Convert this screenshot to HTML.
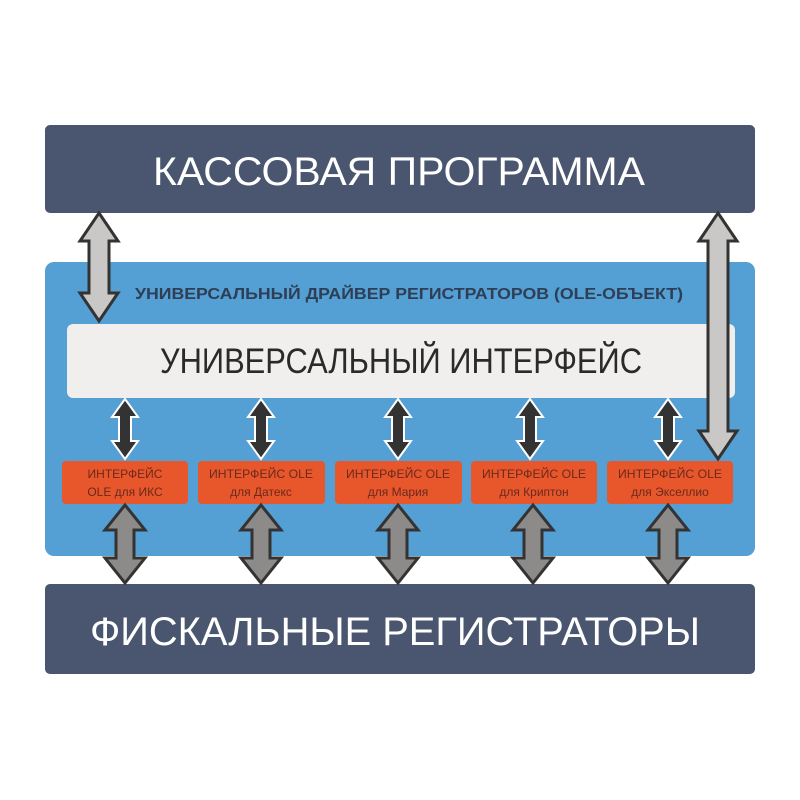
<!DOCTYPE html>
<html><head><meta charset="utf-8"><style>
html,body{margin:0;padding:0;background:#fff;width:800px;height:800px;overflow:hidden}
svg{display:block}
text{font-family:"Liberation Sans","DejaVu Sans",sans-serif}
</style></head><body>
<svg width="800" height="800" viewBox="0 0 800 800" xmlns="http://www.w3.org/2000/svg">
<rect x="0" y="0" width="800" height="800" fill="#fff"/>
<rect x="45" y="125" width="710" height="88" rx="5" fill="#4a5670"/>
<text x="399" y="185" font-size="40" fill="#fff" text-anchor="middle" textLength="492" lengthAdjust="spacingAndGlyphs">КАССОВАЯ ПРОГРАММА</text>
<rect x="45" y="262" width="710" height="294" rx="9" fill="#549fd3"/>
<text x="409" y="299" font-size="16" font-weight="bold" fill="#2e3e55" text-anchor="middle" textLength="548" lengthAdjust="spacingAndGlyphs">УНИВЕРСАЛЬНЫЙ ДРАЙВЕР РЕГИСТРАТОРОВ (OLE-ОБЪЕКТ)</text>
<rect x="67" y="324" width="668" height="74" rx="6" fill="#f0efed"/>
<text x="401" y="373" font-size="35" fill="#2a2a2a" text-anchor="middle" textLength="482" lengthAdjust="spacingAndGlyphs">УНИВЕРСАЛЬНЫЙ ИНТЕРФЕЙС</text>
<g fill="#e8562c">
<rect x="62" y="461" width="126" height="43" rx="4"/>
<rect x="198" y="461" width="127" height="43" rx="4"/>
<rect x="335" y="461" width="127" height="43" rx="4"/>
<rect x="471" y="461" width="126" height="43" rx="4"/>
<rect x="607" y="461" width="126" height="43" rx="4"/>
</g>
<g font-size="12" fill="#6a2a1c" text-anchor="middle">
<text x="125" y="478">ИНТЕРФЕЙС</text><text x="125" y="496">OLE для ИКС</text>
<text x="261" y="478" textLength="104" lengthAdjust="spacingAndGlyphs">ИНТЕРФЕЙС OLE</text><text x="261" y="496">для Датекс</text>
<text x="398" y="478" textLength="104" lengthAdjust="spacingAndGlyphs">ИНТЕРФЕЙС OLE</text><text x="398" y="496">для Мария</text>
<text x="534" y="478" textLength="104" lengthAdjust="spacingAndGlyphs">ИНТЕРФЕЙС OLE</text><text x="534" y="496">для Криптон</text>
<text x="670" y="478" textLength="104" lengthAdjust="spacingAndGlyphs">ИНТЕРФЕЙС OLE</text><text x="670" y="496">для Экселлио</text>
</g>
<rect x="45" y="584" width="710" height="90" rx="5" fill="#4a5670"/>
<text x="395" y="645" font-size="40" fill="#fff" text-anchor="middle" textLength="610" lengthAdjust="spacingAndGlyphs">ФИСКАЛЬНЫЕ РЕГИСТРАТОРЫ</text>
<g fill="#c9c8c6" stroke="#333" stroke-width="3">
<polygon points="99,213 118,241 109,241 109,293 118,293 99,321 80,293 89,293 89,241 80,241"/>
<polygon points="718,213 737,241 728,241 728,431 737,431 718,459 699,431 708,431 708,241 699,241"/>
</g>
<g fill="#333" stroke="#fff" stroke-width="2">
<polygon points="125,399 138,417 131,417 131,441 138,441 125,459 112,441 119,441 119,417 112,417"/>
<polygon points="261,399 274,417 267,417 267,441 274,441 261,459 248,441 255,441 255,417 248,417"/>
<polygon points="398,399 411,417 404,417 404,441 411,441 398,459 385,441 392,441 392,417 385,417"/>
<polygon points="530,399 543,417 536,417 536,441 543,441 530,459 517,441 524,441 524,417 517,417"/>
<polygon points="668,399 681,417 674,417 674,441 681,441 668,459 655,441 662,441 662,417 655,417"/>
</g>
<g fill="#8c8b8a" stroke="#333" stroke-width="3">
<polygon points="125,505 145,530 134,530 134,558 145,558 125,583 105,558 116,558 116,530 105,530"/>
<polygon points="261,505 281,530 270,530 270,558 281,558 261,583 241,558 252,558 252,530 241,530"/>
<polygon points="398,505 418,530 407,530 407,558 418,558 398,583 378,558 389,558 389,530 378,530"/>
<polygon points="533,505 553,530 542,530 542,558 553,558 533,583 513,558 524,558 524,530 513,530"/>
<polygon points="668,505 688,530 677,530 677,558 688,558 668,583 648,558 659,558 659,530 648,530"/>
</g>
</svg>
</body></html>
